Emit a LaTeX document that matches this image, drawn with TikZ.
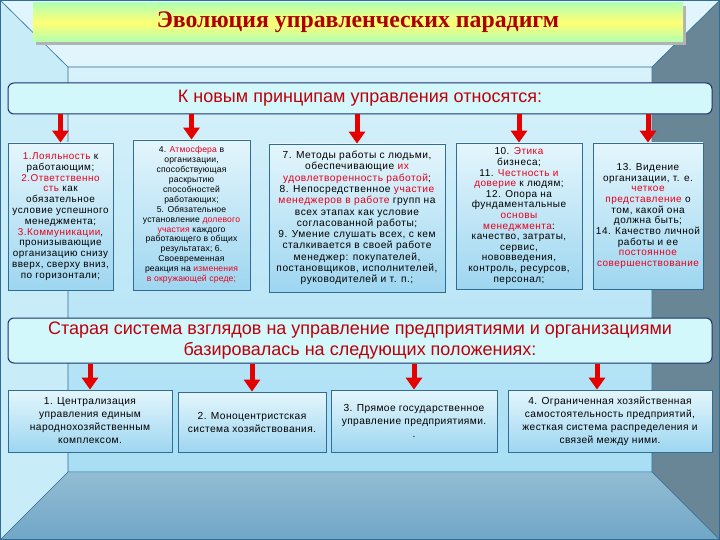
\documentclass[tikz,border=0pt]{standalone}
\usepackage{fontspec}
\setmainfont{Liberation Serif}
\setsansfont{Liberation Sans}
\newfontfamily\cardsf[LetterSpace=5]{Liberation Sans}
\newfontfamily\tightsf[LetterSpace=2]{Liberation Sans}
\newfontfamily\lowsf[LetterSpace=4]{Liberation Sans}
\usetikzlibrary{arrows.meta}

\definecolor{hlred}{RGB}{232,0,28}
\definecolor{hdred}{RGB}{190,0,10}
\definecolor{ttlred}{RGB}{175,0,0}
\definecolor{ceil}{RGB}{224,246,252}
\definecolor{lwall}{RGB}{200,236,248}
\definecolor{rwall}{RGB}{104,134,150}
\definecolor{floorc}{RGB}{112,166,198}
\definecolor{wtop}{RGB}{216,242,251}
\definecolor{wbot}{RGB}{168,222,244}
\definecolor{boxtop}{RGB}{228,246,252}
\definecolor{boxbot}{RGB}{158,214,240}
\definecolor{boxline}{RGB}{48,108,148}
\definecolor{hdrfill}{RGB}{210,248,252}
\definecolor{hdrline}{RGB}{30,50,110}
\newcommand\hl[1]{\textcolor{hlred}{#1}}

\tikzset{
  card/.style={draw=boxline, line width=0.8pt, top color=boxtop, bottom color=boxbot,
    align=center, inner sep=2pt, font=\cardsf\fontsize{9.9}{10.8}\selectfont},
  lowcard/.style={card, font=\lowsf\fontsize{10.2}{13}\selectfont},
  banner/.style={draw=hdrline, line width=1pt, rounded corners=6pt, fill=hdrfill,
    align=center, text=hdred, font=\sffamily\fontsize{18}{21}\selectfont},
  downarr/.style={draw=red!90!black, line width=5pt, -{Triangle[width=16pt,length=12pt]}}
}

\begin{document}
\begin{tikzpicture}[x=1pt,y=-1pt]
\useasboundingbox (0,0) rectangle (720,540);

\fill[ceil] (0,0) rectangle (720,540);
\fill[lwall] (0,0) -- (68,67) -- (68,472) -- (0,540) -- cycle;
\fill[rwall] (720,0) -- (652,67) -- (652,472) -- (720,540) -- cycle;
\shade[top color=floorc!75!white, bottom color=floorc] (0,540) -- (68,472) -- (652,472) -- (720,540) -- cycle;
\shade[top color=wtop, bottom color=wbot] (68,67) rectangle (652,472);
\draw[boxline, line width=0.6pt] (0,0) -- (68,67) (720,0) -- (652,67)
  (0,540) -- (68,472) (720,540) -- (652,472) (68,67) rectangle (652,472);
\draw[boxline, line width=1.5pt] (0,0) rectangle (720,540);

\fill[gray!60] (36,6) rectangle (686,45);
\node[minimum width=650pt, minimum height=39pt, top color=green!30!white, bottom color=green!30!white,
  middle color=yellow!55!white, text=ttlred, font=\bfseries\fontsize{23.8}{26}\selectfont]
  (title) at (358,22.5) {Эволюция управленческих парадигм};

\node[banner, minimum width=704pt, minimum height=31pt] (nh) at (360,98.5)
  {К новым принципам управления относятся:};

\node[card, minimum width=105pt, minimum height=147pt] (n1) at (60.5,216.5)
  {\hl{1.Лояльность} к\\ работающим;\\ \hl{2.Ответственно}\\ \hl{сть} как\\ обязательное\\
   условие успешного\\ менеджмента;\\ \hl{3.Коммуникации},\\ пронизывающие\\
   организацию снизу\\ вверх, сверху вниз,\\ по горизонтали;};
\node[card, minimum width=117pt, minimum height=150pt, font=\tightsf\fontsize{8.6}{9.9}\selectfont]
  (n2) at (191.5,215)
  {4. \hl{Атмосфера} в\\ организации,\\ способствующая\\ раскрытию\\ способностей\\ работающих;\\
   5. Обязательное\\ установление \hl{долевого}\\ \hl{участия} каждого\\ работающего в общих\\
   результатах; 6.\\ Своевременная\\ реакция на \hl{изменения}\\ \hl{в окружающей среде;}};
\node[card, minimum width=176pt, minimum height=148pt, font=\cardsf\fontsize{10.2}{11.3}\selectfont]
  (n3) at (357,218)
  {7. Методы работы с людьми,\\ обеспечивающие \hl{их}\\ \hl{удовлетворенность работой};\\
   8. Непосредственное \hl{участие}\\ \hl{менеджеров в работе} групп на\\ всех этапах как условие\\
   согласованной работы;\\ 9. Умение слушать всех, с кем\\ сталкивается в своей работе\\
   менеджер: покупателей,\\ постановщиков, исполнителей,\\ руководителей и т. п.;};
\node[card, minimum width=126pt, minimum height=146pt, font=\cardsf\fontsize{10}{10.6}\selectfont]
  (n4) at (519,216)
  {10. \hl{Этика}\\ бизнеса;\\ 11. \hl{Честность и}\\ \hl{доверие} к людям;\\ 12. Опора на\\
   фундаментальные\\ \hl{основы}\\ \hl{менеджмента}:\\ качество, затраты,\\ сервис,\\
   нововведения,\\ контроль, ресурсов,\\ персонал;};
\node[card, minimum width=110pt, minimum height=146pt, font=\cardsf\fontsize{10}{10.7}\selectfont]
  (n5) at (648,216)
  {13. Видение\\ организации, т. е.\\ \hl{четкое}\\ \hl{представление} о\\ том, какой она\\
   должна быть;\\ 14. Качество личной\\ работы и ее\\ \hl{постоянное}\\ \hl{совершенствование}};

\draw[downarr] (nh.south -| n1.north) -- (n1.north);
\draw[downarr] (nh.south -| n2.north) -- (n2.north);
\draw[downarr] (nh.south -| n3.north) -- (n3.north);
\draw[downarr] (nh.south -| n4.north) -- (n4.north);
\draw[downarr] (nh.south -| n5.north) -- (n5.north);

\node[banner, minimum width=704pt, minimum height=45pt] (oh) at (360,340.5)
  {Старая система взглядов на управление предприятиями и организациями\\
   базировалась на следующих положениях:};

\node[lowcard, minimum width=164pt, minimum height=62pt] (o1) at (90,421)
  {1. Централизация\\ управления единым\\ народнохозяйственным\\ комплексом.};
\node[lowcard, minimum width=148pt, minimum height=60pt] (o2) at (252,422)
  {2. Моноцентристская\\ система хозяйствования.};
\node[lowcard, minimum width=166pt, minimum height=62pt] (o3) at (414,421)
  {3. Прямое государственное\\ управление предприятиями.\\ .};
\node[lowcard, minimum width=204pt, minimum height=62pt] (o4) at (610,421)
  {4. Ограниченная хозяйственная\\ самостоятельность предприятий,\\
   жесткая система распределения и\\ связей между ними.};

\draw[downarr] (oh.south -| o1.north) -- (o1.north);
\draw[downarr] (oh.south -| o2.north) -- (o2.north);
\draw[downarr] (oh.south -| o3.north) -- (o3.north);
\draw[downarr] ([xshift=-13pt]oh.south -| o4.north) -- ([xshift=-13pt]o4.north);

\end{tikzpicture}
\end{document}
